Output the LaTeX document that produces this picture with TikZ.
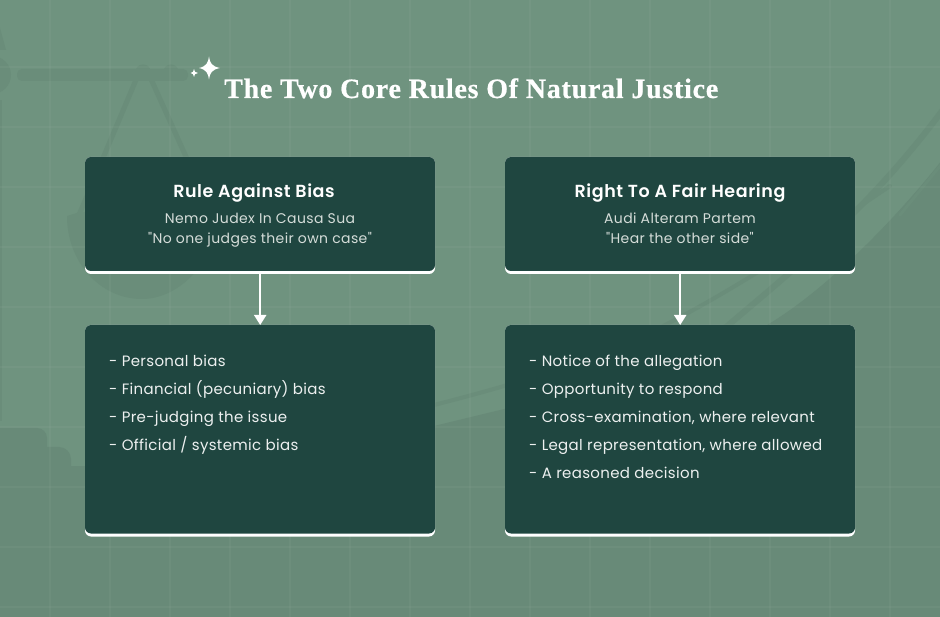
\documentclass[tikz,border=0pt]{standalone}
\usepackage{fontspec}
\usetikzlibrary{arrows.meta}
\newfontfamily\headfont[LetterSpace=3.3]{Poppins SemiBold}
\newfontfamily\subfont[LetterSpace=2.8]{Poppins}
\newfontfamily\itemfont[LetterSpace=2.2]{Poppins}
\newfontfamily\titlefont[LetterSpace=2.65,FakeBold=0.6]{Liberation Serif Bold}
\definecolor{bgtone}{HTML}{6F937F}
\definecolor{bgdeep}{HTML}{688A78}
\definecolor{emblem}{HTML}{6A8D7A}
\definecolor{boxfill}{HTML}{1F4640}
\definecolor{subtext}{HTML}{D5DDD9}
\tikzset{
  x=1pt, y=-1pt,
  card/.style={fill=boxfill, rounded corners=6pt},
  rim/.style={fill=white, rounded corners=6pt},
  cardnode/.style={minimum width=350pt, inner sep=0pt, anchor=north west},
  heading/.style={text=white, font=\headfont\fontsize{17.5}{20}\selectfont, anchor=base, inner sep=0pt},
  subline/.style={text=subtext, font=\subfont\fontsize{14}{16}\selectfont, anchor=base, inner sep=0pt},
  item/.style={text=white!92!boxfill, font=\itemfont\fontsize{15}{17}\selectfont, anchor=base west, inner sep=0pt},
  link/.style={draw=white, line width=2pt, -{Triangle[width=12pt,length=10pt]}},
  faintline/.style={draw=emblem, line cap=round},
  gridline/.style={draw=white, opacity=0.035, line width=1.5pt},
}
\begin{document}
\begin{tikzpicture}
\useasboundingbox (0,0) rectangle (940,617);
% backdrop
\fill[bgtone] (0,0) rectangle (940,617);
% deeper tone of the lower right, bounded by a long sweep
\fill[bgdeep] (0,466) -- (85,466) .. controls (200,460) and (330,450) .. (430,427)
  .. controls (560,395) and (680,370) .. (767,325)
  .. controls (810,300) and (880,240) .. (950,150) -- (950,617) -- (0,617) -- cycle;
% balance emblem
\fill[emblem, rounded corners=5pt] (17,69) rectangle (188,81);
\fill[emblem] (-8,75) circle (19);
\fill[emblem] (0,28) -- (6,50) -- (0,50) -- cycle;
\fill[emblem] (-3,100) rectangle (2,421);
\fill[bgdeep, rounded corners=10pt] (-10,428) -- (47,428) -- (47,470) -- (-10,470) -- cycle;
\fill[bgdeep, rounded corners=12pt] (-10,447) -- (71,447) -- (71,490) -- (-10,490) -- cycle;
\fill[emblem] (143,72) circle (7.5);
\fill[emblem] (171,72) circle (7.5);
\draw[faintline, line width=5pt] (141,68) -- (79,215);
\draw[faintline, line width=5pt] (146,68) -- (192,170);
\fill[emblem] (67,216) -- (80,212) -- (197,212) -- (197,270) .. controls (185,285) and (165,299) .. (142,299)
  .. controls (100,299) and (67,262) .. cycle;
% second pan, sweeping up to the right
\draw[faintline, line width=4pt] (430,406) .. controls (505,387) and (600,360) .. (665,325)
  .. controls (730,292) and (810,240) .. (890,186);
\draw[faintline, line width=6pt] (700,350) .. controls (760,295) and (860,225) .. (950,100);
\draw[faintline, line width=3pt] (900,215) -- (945,160);
% grid
\foreach \gx in {50,110,...,890} \draw[gridline] (\gx,0) -- (\gx,617);
\foreach \gy in {67,127,...,607} \draw[gridline] (0,\gy) -- (940,\gy);
% title and its sparkles
\node[text=white, anchor=base west, inner sep=0pt, font=\titlefont\fontsize{28}{32}\selectfont] (title) at (224,98) {The Two Core Rules Of Natural Justice};
\fill[white] (209,56.5) .. controls (209.8,63) and (212,66.5) .. (220,68) .. controls (212,69.5) and (209.8,73) .. (209,79.5) .. controls (208.2,73) and (206,69.5) .. (199,68) .. controls (206,66.5) and (208.2,63) .. cycle;
\fill[white] (194,69) .. controls (194.3,71.5) and (195,72.5) .. (198,73) .. controls (195,73.5) and (194.3,74.5) .. (194,77) .. controls (193.7,74.5) and (193,73.5) .. (190.5,73) .. controls (193,72.5) and (193.7,71.5) .. cycle;
% cards, each with a white rim along its lower edge
\fill[rim] (85,157) rectangle (435,274);
\fill[card] (85,157) rectangle (435,271);
\fill[rim] (505,157) rectangle (855,274);
\fill[card] (505,157) rectangle (855,271);
\fill[rim] (85,325) rectangle (435,536.5);
\fill[card] (85,325) rectangle (435,533.5);
\fill[rim] (505,325) rectangle (855,536.5);
\fill[card] (505,325) rectangle (855,533.5);
\node[cardnode, minimum height=117pt] (ruleA) at (85,157) {};
\node[cardnode, minimum height=117pt] (ruleB) at (505,157) {};
\node[cardnode, minimum height=211pt] (listA) at (85,325) {};
\node[cardnode, minimum height=211pt] (listB) at (505,325) {};
% connectors
\draw[link] (ruleA.south) -- (listA.north);
\draw[link] (ruleB.south) -- (listB.north);
% card texts
\node[heading] (hA) at (254,197.5) {Rule Against Bias};
\node[subline] (nA) at (260,223.5) {Nemo Judex In Causa Sua};
\node[subline] (qA) at (260,243.5) {"No one judges their own case"};
\node[heading] (hB) at (680,197.5) {Right To A Fair Hearing};
\node[subline] (nB) at (680,223.5) {Audi Alteram Partem};
\node[subline] (qB) at (680,243.5) {"Hear the other side"};
\node[item] (a1) at (109,366.5) {- Personal bias};
\node[item] (a2) at (109,394.5) {- Financial (pecuniary) bias};
\node[item] (a3) at (109,422.5) {- Pre-judging the issue};
\node[item] (a4) at (109,450.5) {- Official / systemic bias};
\node[item] (b1) at (529,366.5) {- Notice of the allegation};
\node[item] (b2) at (529,394.5) {- Opportunity to respond};
\node[item] (b3) at (529,422.5) {- Cross-examination, where relevant};
\node[item] (b4) at (529,450.5) {- Legal representation, where allowed};
\node[item] (b5) at (529,478.5) {- A reasoned decision};
\end{tikzpicture}
\end{document}
